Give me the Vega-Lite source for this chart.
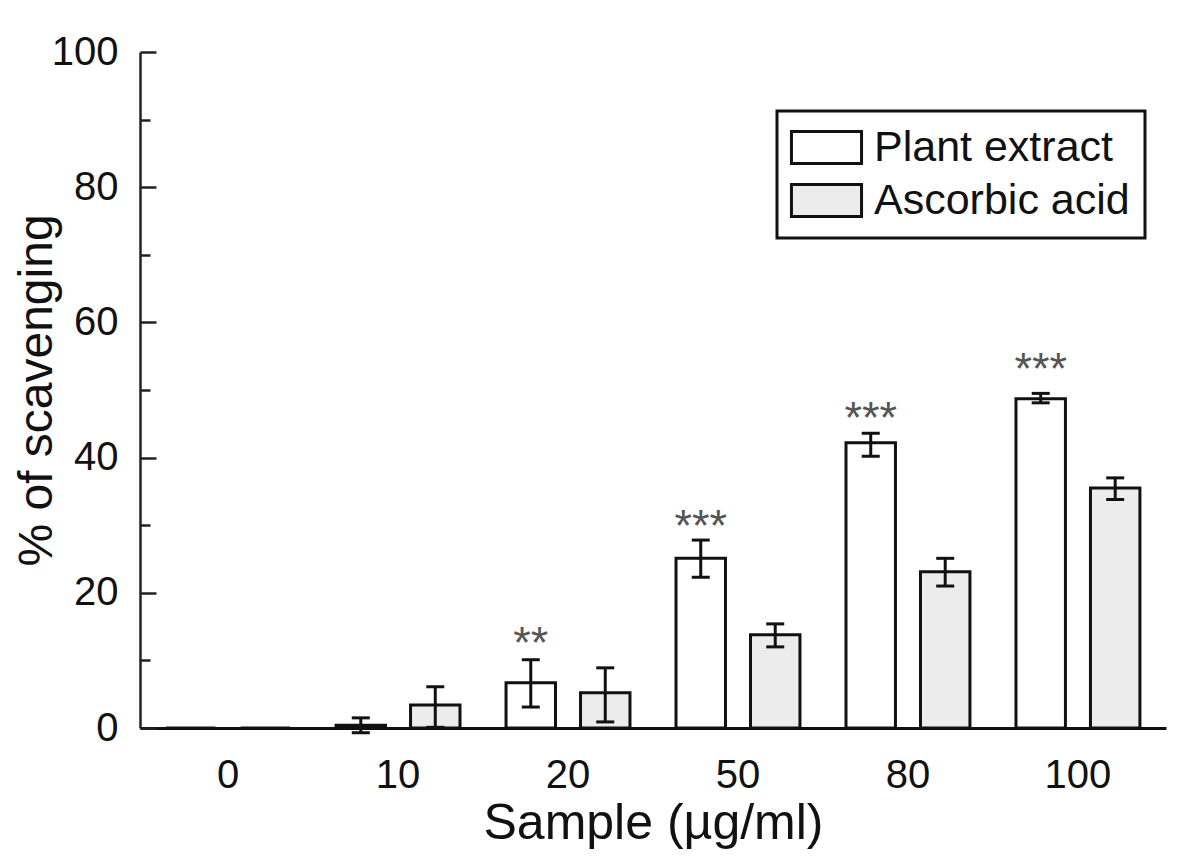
{
  "$schema": "https://vega.github.io/schema/vega-lite/v6.json",
  "width": 1026,
  "height": 676,
  "autosize": "none",
  "padding": {"left": 140, "top": 52, "right": 34, "bottom": 138},
  "background": "white",
  "config": {
    "view": {"stroke": null},
    "font": "Liberation Sans",
    "legend": {"strokeWidth": 3}
  },
  "data": {
    "values": [
      {"conc": "0", "group": "Plant extract", "value": 0, "lo": 0, "hi": 0, "sig": "", "sigPos": null},
      {"conc": "10", "group": "Plant extract", "value": 0.4, "lo": -0.7, "hi": 1.5, "sig": "", "sigPos": null},
      {"conc": "20", "group": "Plant extract", "value": 6.7, "lo": 3.1, "hi": 10.1, "sig": "**", "sigPos": 14.2},
      {"conc": "50", "group": "Plant extract", "value": 25.1, "lo": 22.3, "hi": 27.8, "sig": "***", "sigPos": 31.5},
      {"conc": "80", "group": "Plant extract", "value": 42.2, "lo": 40.2, "hi": 43.6, "sig": "***", "sigPos": 47.5},
      {"conc": "100", "group": "Plant extract", "value": 48.7, "lo": 48.1, "hi": 49.5, "sig": "***", "sigPos": 54.7},
      {"conc": "0", "group": "Ascorbic acid", "value": 0, "lo": 0, "hi": 0, "sig": "", "sigPos": null},
      {"conc": "10", "group": "Ascorbic acid", "value": 3.4, "lo": 0.1, "hi": 6.1, "sig": "", "sigPos": null},
      {"conc": "20", "group": "Ascorbic acid", "value": 5.2, "lo": 0.9, "hi": 8.9, "sig": "", "sigPos": null},
      {"conc": "50", "group": "Ascorbic acid", "value": 13.8, "lo": 12.0, "hi": 15.4, "sig": "", "sigPos": null},
      {"conc": "80", "group": "Ascorbic acid", "value": 23.1, "lo": 21.0, "hi": 25.1, "sig": "", "sigPos": null},
      {"conc": "100", "group": "Ascorbic acid", "value": 35.5, "lo": 33.8, "hi": 37.0, "sig": "", "sigPos": null}
    ]
  },
  "encoding": {
    "x": {
      "field": "conc",
      "type": "ordinal",
      "sort": ["0", "10", "20", "50", "80", "100"],
      "scale": {"paddingInner": 0, "paddingOuter": 0.018},
      "axis": {
        "title": "Sample (µg/ml)",
        "labelAngle": 0,
        "ticks": false,
        "tickSize": 0,
        "labelPadding": 27,
        "labelFontSize": 40,
        "labelColor": "#111",
        "labelFont": "Liberation Sans",
        "domainColor": "#111",
        "domainWidth": 3,
        "titleFontSize": 50,
        "titleFontWeight": "normal",
        "titleColor": "#111",
        "titlePadding": 3,
        "titleFont": "Liberation Sans"
      }
    },
    "xOffset": {
      "field": "group",
      "type": "nominal",
      "sort": ["Plant extract", "Ascorbic acid"],
      "scale": {"paddingInner": 0.336, "paddingOuter": 0.309}
    }
  },
  "layer": [
    {
      "mark": {"type": "bar", "stroke": "#111", "strokeWidth": 3},
      "encoding": {
        "y": {
          "field": "value",
          "type": "quantitative",
          "scale": {"domain": [0, 100], "nice": false},
          "axis": {
            "title": "% of scavenging",
            "values": [0, 10, 20, 30, 40, 50, 60, 70, 80, 90, 100],
            "labelExpr": "datum.value % 20 === 0 ? datum.label : ''",
            "grid": false,
            "tickSize": {"condition": {"test": "datum.value % 20 === 10", "value": -10}, "value": -16},
            "tickWidth": 2.5,
            "tickColor": "#222",
            "domainColor": "#222",
            "domainWidth": 2.5,
            "labelPadding": 38,
            "labelFontSize": 40,
            "labelColor": "#111",
            "labelFont": "Liberation Sans",
            "titleFontSize": 48,
            "titleFontWeight": "normal",
            "titleColor": "#111",
            "titlePadding": -10,
            "titleFont": "Liberation Sans"
          }
        },
        "fill": {
          "field": "group",
          "type": "nominal",
          "sort": ["Plant extract", "Ascorbic acid"],
          "scale": {"range": ["#ffffff", "#ececec"]},
          "legend": {
            "title": null,
            "orient": "none",
            "legendX": 637,
            "legendY": 59,
            "padding": 15,
            "strokeColor": "#111",
            "symbolType": "M-2.19,-1H2.19V1H-2.19Z",
            "symbolSize": 1024,
            "symbolStrokeColor": "#111",
            "symbolStrokeWidth": 3,
            "symbolOffset": 13,
            "labelOffset": 26,
            "labelLimit": 500,
            "labelFontSize": 43,
            "labelColor": "#111",
            "labelFont": "Liberation Sans",
            "rowPadding": 8
          }
        }
      }
    },
    {
      "transform": [{"filter": "datum.hi > 0"}],
      "mark": {"type": "rule", "strokeWidth": 3, "color": "#111"},
      "encoding": {
        "y": {"field": "lo", "type": "quantitative"},
        "y2": {"field": "hi"}
      }
    },
    {
      "transform": [{"filter": "datum.hi > 0"}],
      "mark": {"type": "tick", "size": 18, "thickness": 3, "color": "#111", "opacity": 1},
      "encoding": {
        "y": {"field": "lo", "type": "quantitative"}
      }
    },
    {
      "transform": [{"filter": "datum.hi > 0"}],
      "mark": {"type": "tick", "size": 18, "thickness": 3, "color": "#111", "opacity": 1},
      "encoding": {
        "y": {"field": "hi", "type": "quantitative"}
      }
    },
    {
      "transform": [{"filter": "datum.sig != ''"}],
      "mark": {"type": "text", "fontSize": 45, "color": "#555", "baseline": "alphabetic", "dy": 26, "font": "Liberation Sans"},
      "encoding": {
        "y": {"field": "sigPos", "type": "quantitative"},
        "text": {"field": "sig"}
      }
    }
  ]
}
